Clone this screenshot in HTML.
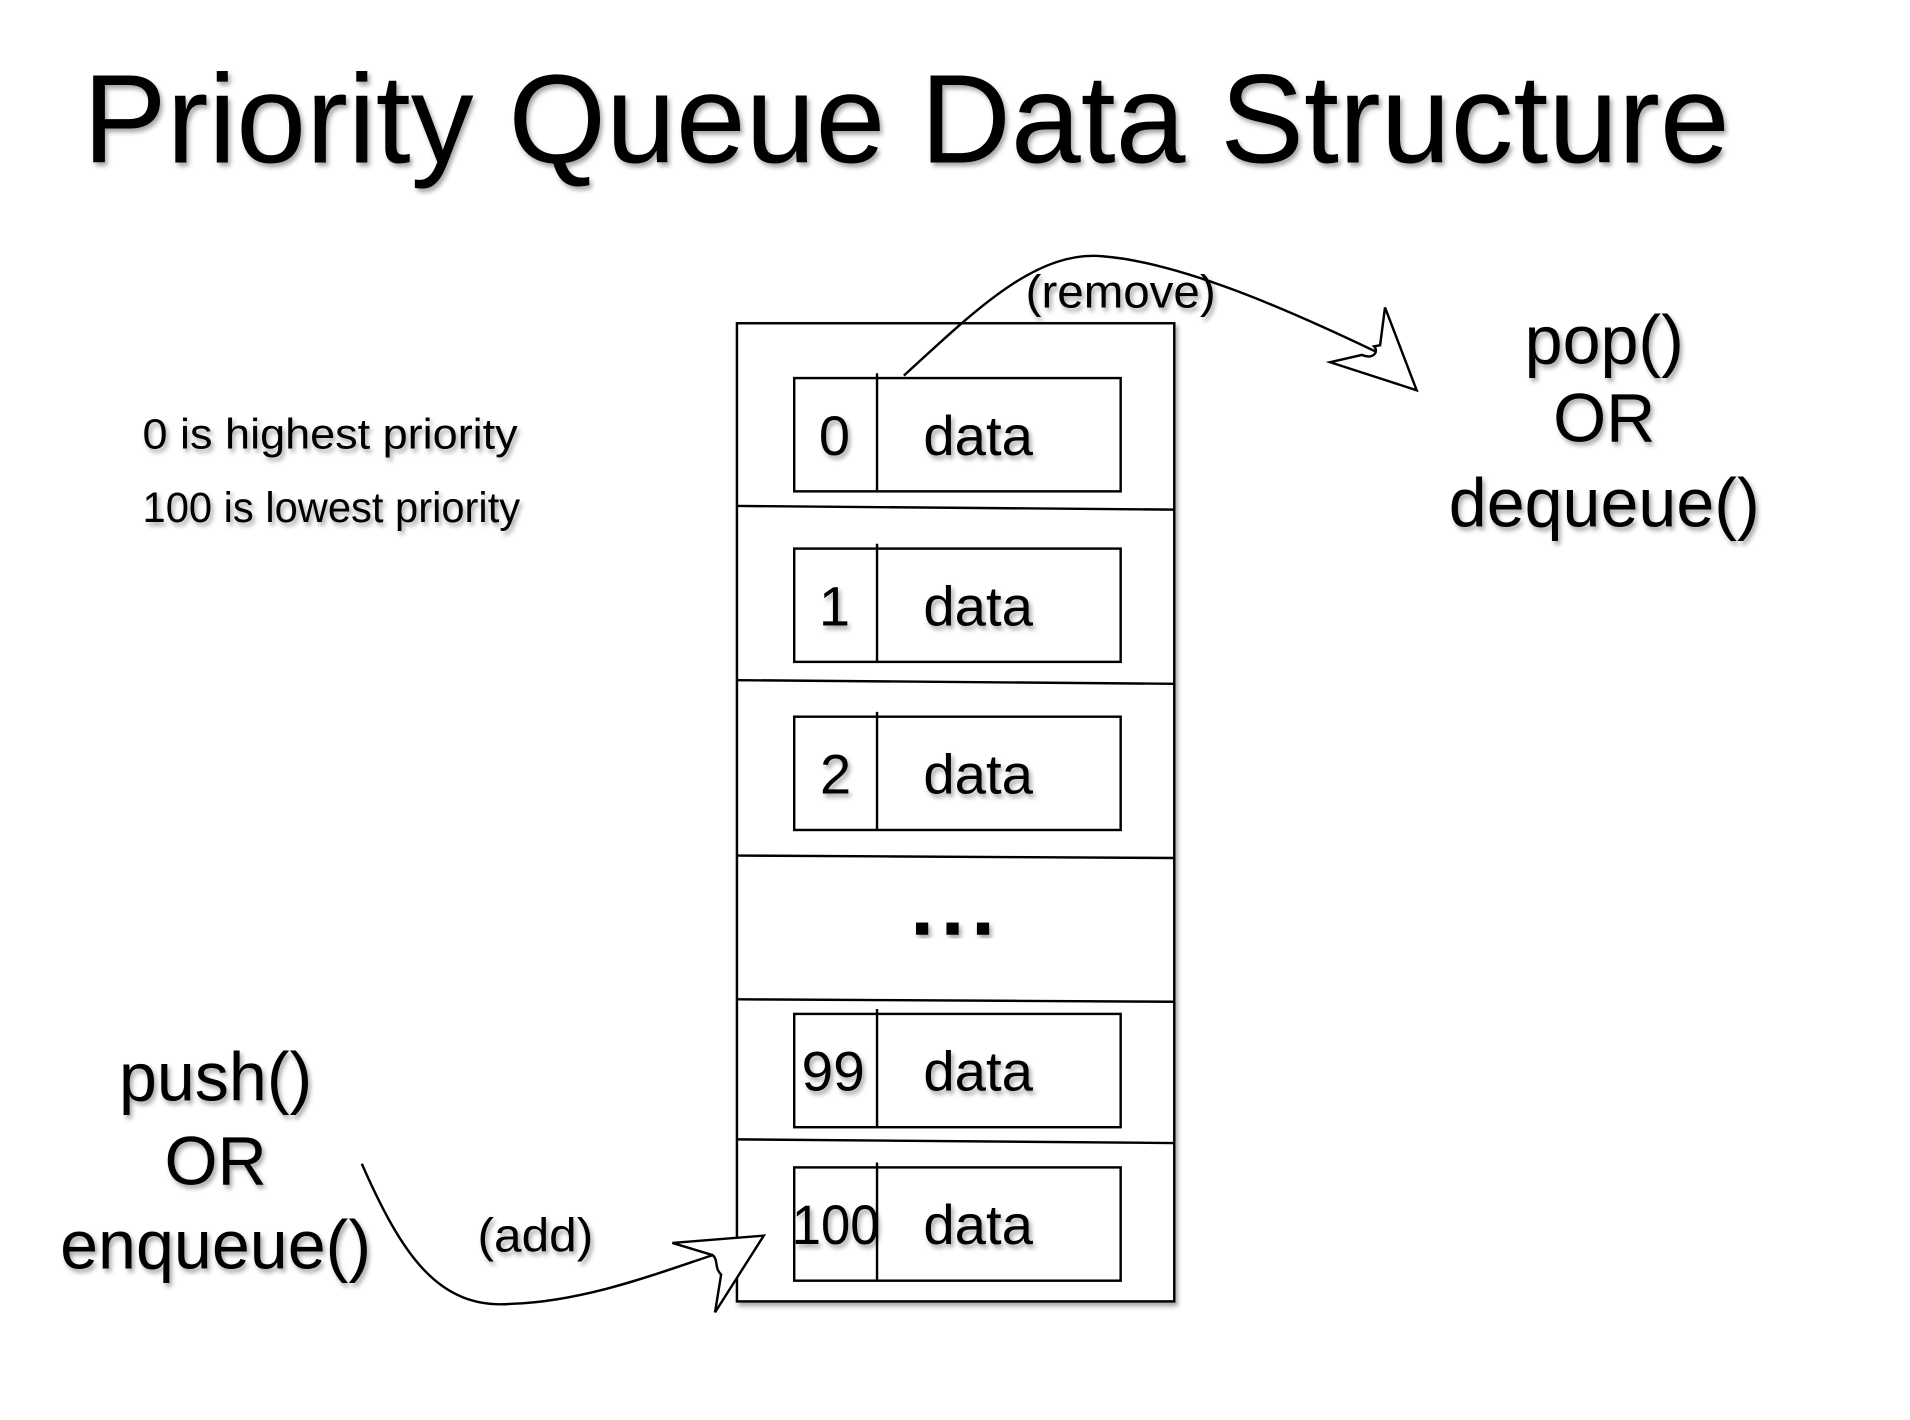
<!DOCTYPE html>
<html><head><meta charset="utf-8"><style>
html,body{margin:0;padding:0;background:#fff;}
svg{display:block;}
text{font-family:"Liberation Sans",sans-serif;fill:#000;}
</style></head><body>
<svg width="1910" height="1420" viewBox="0 0 1568 1165" xmlns="http://www.w3.org/2000/svg">
<defs>
<filter id="sh" x="-10%" y="-10%" width="130%" height="140%">
<feDropShadow dx="2" dy="3" stdDeviation="2" flood-color="#000" flood-opacity="0.35"/>
</filter>
</defs>
<g filter="url(#sh)">
<text x="68" y="133" font-size="104" textLength="1352" lengthAdjust="spacingAndGlyphs">Priority Queue Data Structure</text>
<text x="117" y="368" font-size="35" textLength="308" lengthAdjust="spacingAndGlyphs">0 is highest priority</text>
<text x="117" y="428" font-size="35" textLength="310" lengthAdjust="spacingAndGlyphs">100 is lowest priority</text>
<g font-size="56" text-anchor="middle">
<text x="1317" y="298">pop()</text>
<text x="1317" y="362">OR</text>
<text x="1317" y="432">dequeue()</text>
<text x="177" y="903">push()</text>
<text x="177" y="972">OR</text>
<text x="177" y="1041">enqueue()</text>
</g>
<text x="842" y="252" font-size="38" textLength="156" lengthAdjust="spacingAndGlyphs">(remove)</text>
<text x="392" y="1027" font-size="39" textLength="95" lengthAdjust="spacingAndGlyphs">(add)</text>
</g>
<g fill="none" stroke="#000" stroke-width="2" filter="url(#sh)">
<rect x="605" y="265" width="359" height="803" fill="#fff"/>
<line x1="605" y1="415" x2="964" y2="418"/>
<line x1="605" y1="558" x2="964" y2="561"/>
<line x1="605" y1="702" x2="964" y2="704"/>
<line x1="605" y1="820" x2="964" y2="822"/>
<line x1="605" y1="935" x2="964" y2="938"/>
<g fill="#fff">
<rect x="652" y="310" width="268" height="93"/>
<rect x="652" y="450" width="268" height="93"/>
<rect x="652" y="588" width="268" height="93"/>
<rect x="652" y="832" width="268" height="93"/>
<rect x="652" y="958" width="268" height="93"/>
</g>
<line x1="720" y1="306" x2="720" y2="403"/>
<line x1="720" y1="446" x2="720" y2="543"/>
<line x1="720" y1="584" x2="720" y2="681"/>
<line x1="720" y1="828" x2="720" y2="925"/>
<line x1="720" y1="954" x2="720" y2="1051"/>
</g>
<g filter="url(#sh)" font-size="46">
<text x="685" y="373" text-anchor="middle">0</text>
<text x="685" y="513" text-anchor="middle">1</text>
<text x="686" y="651" text-anchor="middle">2</text>
<text x="684" y="895" text-anchor="middle" textLength="52" lengthAdjust="spacingAndGlyphs">99</text>
<text x="686" y="1021" text-anchor="middle" textLength="72" lengthAdjust="spacingAndGlyphs">100</text>
<text x="758" y="373" textLength="90" lengthAdjust="spacingAndGlyphs">data</text>
<text x="758" y="513" textLength="90" lengthAdjust="spacingAndGlyphs">data</text>
<text x="758" y="651" textLength="90" lengthAdjust="spacingAndGlyphs">data</text>
<text x="758" y="895" textLength="90" lengthAdjust="spacingAndGlyphs">data</text>
<text x="758" y="1021" textLength="90" lengthAdjust="spacingAndGlyphs">data</text>
</g>
<g filter="url(#sh)" fill="#000">
<rect x="752" y="757" width="10" height="10"/>
<rect x="777" y="757" width="10" height="10"/>
<rect x="802" y="757" width="10" height="10"/>
</g>
<g fill="none" stroke="#000" stroke-width="2">
<path d="M742 308 C800 255 850 205 905 210 C970 215 1060 255 1133 290"/>
<path d="M1137 252 L1163 320 L1092 297 L1118 291 C1128 295 1132 288 1128 284 L1133 283 Z" fill="#fff"/>
<path d="M297 955 C330 1030 360 1075 420 1070 C480 1068 540 1045 585 1030"/>
<path d="M552 1020 L627 1014 L587 1077 L592 1046 C586 1040 590 1034 585 1030 Z" fill="#fff"/>
</g>
</svg>
</body></html>
